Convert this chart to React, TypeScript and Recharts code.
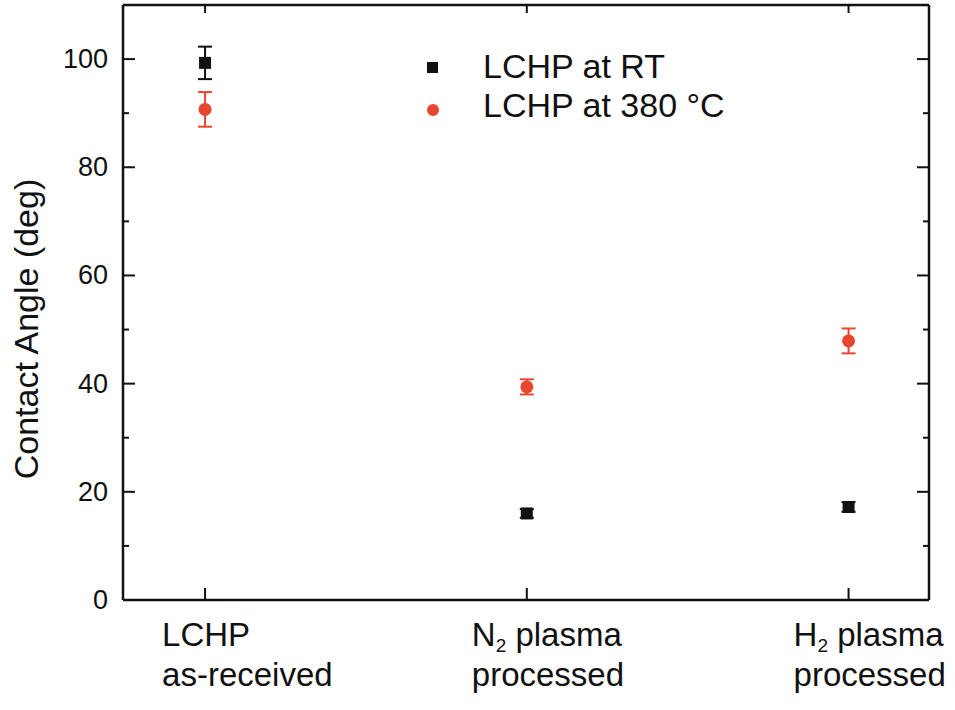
import React from 'react';
import { ScatterChart, Scatter, XAxis, YAxis, ErrorBar, Legend } from 'recharts';

const categories = [
  { main: 'LCHP', sub: '', rest: '', line2: 'as-received' },
  { main: 'N', sub: '2', rest: ' plasma', line2: 'processed' },
  { main: 'H', sub: '2', rest: ' plasma', line2: 'processed' },
];
const rtValues = [99.3, 16.0, 17.2];
const rtErrors = [3.0, 0.8, 0.9];
const hotValues = [90.7, 39.4, 47.9];
const hotErrors = [3.2, 1.4, 2.3];
const yTicks = [0, 10, 20, 30, 40, 50, 60, 70, 80, 90, 100];
const seriesNames = ['LCHP at RT', 'LCHP at 380 \u00B0C'];

const RED = '#E8472F';
const INK = '#111111';
const FONT = '"Liberation Sans", Arial, sans-serif';

const rtData = rtValues.map((v, i) => ({ x: i + 1, y: v, err: rtErrors[i] }));
const hotData = hotValues.map((v, i) => ({ x: i + 1, y: v, err: hotErrors[i] }));

const X_DOMAIN: [number, number] = [0.745, 3.25];
const Y_DOMAIN: [number, number] = [0, 110];

const LeftTick = (props: any) => {
  const { x, y, payload } = props;
  const major = payload.value % 20 === 0;
  return (
    <g>
      <line x1={x} x2={x + (major ? 12 : 6)} y1={y} y2={y} stroke={INK} strokeWidth={2} />
      {major && (
        <text x={x - 15} y={y + 9} textAnchor="end" fontSize={27} fontFamily={FONT} fill={INK}>
          {payload.value}
        </text>
      )}
    </g>
  );
};

const RightTick = (props: any) => {
  const { x, y, payload } = props;
  const major = payload.value % 20 === 0;
  return <line x1={x} x2={x - (major ? 12 : 6)} y1={y} y2={y} stroke={INK} strokeWidth={2} />;
};

const TopTick = (props: any) => {
  const { x, y } = props;
  return <line x1={x} x2={x} y1={y} y2={y + 8} stroke={INK} strokeWidth={2} />;
};

const BottomTick = (props: any) => {
  const { x, y, payload } = props;
  const idx = Math.round(payload.value) - 1;
  const c = categories[idx];
  if (!c) return null;
  const left = x + (idx === 0 ? -43 : -55);
  return (
    <g>
      <line x1={x} x2={x} y1={y} y2={y - 12} stroke={INK} strokeWidth={2} />
      <text x={left} y={y + 46} fontSize={33} fontFamily={FONT} fill={INK}>
        {c.main}
        {c.sub && (
          <tspan fontSize={19} dy={6}>
            {c.sub}
          </tspan>
        )}
        {c.rest && <tspan dy={c.sub ? -6 : 0}>{c.rest}</tspan>}
      </text>
      <text x={left} y={y + 86} fontSize={33} fontFamily={FONT} fill={INK}>
        {c.line2}
      </text>
    </g>
  );
};

const SquareShape = (props: any) => {
  const { cx, cy } = props;
  return <rect x={cx - 6} y={cy - 6} width={12} height={12} fill={INK} />;
};

const CircleShape = (props: any) => {
  const { cx, cy } = props;
  return <circle cx={cx} cy={cy} r={6.5} fill={RED} />;
};

const NoShape = () => <g />;

const LegendContent = () => (
  <svg width={340} height={90} style={{ overflow: 'visible' }}>
    <rect x={12} y={22} width={11} height={11} fill={INK} />
    <text x={68} y={38} fontSize={34} fontFamily={FONT} fill={INK}>
      {seriesNames[0]}
    </text>
    <circle cx={18} cy={70} r={6} fill={RED} />
    <text x={68} y={77} fontSize={34} fontFamily={FONT} fill={INK}>
      {seriesNames[1]}
    </text>
  </svg>
);

export default function App() {
  return (
    <div style={{ position: 'absolute', left: 0, top: 0, width: 955, height: 710, background: '#fff' }}>
      <ScatterChart width={955} height={710} margin={{ top: 0, right: 0, bottom: 0, left: 0 }}>
        <XAxis
          xAxisId="bottom"
          type="number"
          dataKey="x"
          domain={X_DOMAIN}
          allowDataOverflow
          ticks={[1, 2, 3]}
          height={110}
          tickSize={0}
          tickMargin={0}
          tickLine={false}
          axisLine={{ stroke: INK, strokeWidth: 2.5 }}
          tick={BottomTick}
          interval={0}
        />
        <XAxis
          xAxisId="top"
          orientation="top"
          type="number"
          dataKey="x"
          domain={X_DOMAIN}
          allowDataOverflow
          ticks={[1, 2, 3]}
          height={5}
          tickSize={0}
          tickMargin={0}
          tickLine={false}
          axisLine={{ stroke: INK, strokeWidth: 2.5 }}
          tick={TopTick}
          interval={0}
        />
        <YAxis
          yAxisId="left"
          type="number"
          dataKey="y"
          domain={Y_DOMAIN}
          allowDataOverflow
          ticks={yTicks}
          width={123}
          tickSize={0}
          tickMargin={0}
          tickLine={false}
          axisLine={{ stroke: INK, strokeWidth: 2.5 }}
          tick={LeftTick}
          interval={0}
          label={{
            content: () => (
              <text
                x={38}
                y={329}
                transform="rotate(-90, 38, 329)"
                textAnchor="middle"
                fontSize={34}
                fontFamily={FONT}
                fill={INK}
              >
                Contact Angle (deg)
              </text>
            ),
          }}
        />
        <YAxis
          yAxisId="right"
          orientation="right"
          type="number"
          dataKey="y"
          domain={Y_DOMAIN}
          allowDataOverflow
          ticks={yTicks}
          width={26}
          tickSize={0}
          tickMargin={0}
          tickLine={false}
          axisLine={{ stroke: INK, strokeWidth: 2.5 }}
          tick={RightTick}
          interval={0}
        />
        <Legend
          layout="horizontal"
          verticalAlign="middle"
          align="center"
          content={LegendContent}
          wrapperStyle={{ left: 415, top: 40, width: 340, height: 90 }}
        />
        <Scatter
          data={rtData}
          xAxisId="top"
          yAxisId="right"
          shape={NoShape}
          legendType="none"
          isAnimationActive={false}
        />
        <Scatter
          name={seriesNames[0]}
          data={rtData}
          xAxisId="bottom"
          yAxisId="left"
          shape={SquareShape}
          fill={INK}
          isAnimationActive={false}
        >
          <ErrorBar dataKey="err" direction="y" width={7} stroke={INK} strokeWidth={2} isAnimationActive={false} />
        </Scatter>
        <Scatter
          name={seriesNames[1]}
          data={hotData}
          xAxisId="bottom"
          yAxisId="left"
          shape={CircleShape}
          fill={RED}
          isAnimationActive={false}
        >
          <ErrorBar dataKey="err" direction="y" width={7} stroke={RED} strokeWidth={2} isAnimationActive={false} />
        </Scatter>
      </ScatterChart>
    </div>
  );
}
